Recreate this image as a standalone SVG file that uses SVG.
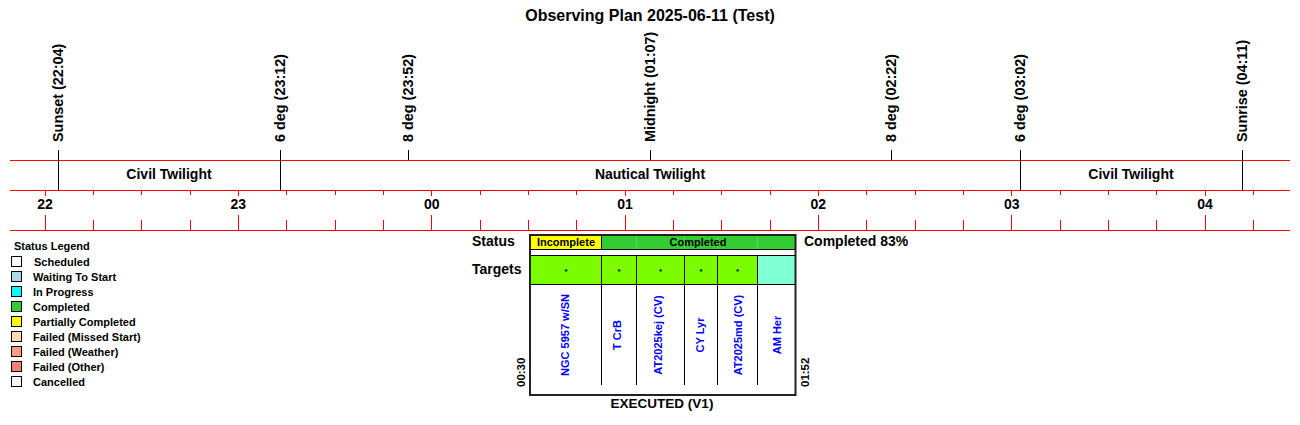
<svg xmlns="http://www.w3.org/2000/svg" width="1300" height="425" viewBox="0 0 1300 425">
<style>
text{font-family:"Liberation Sans",Arial,sans-serif;font-weight:bold;fill:#000}
.red{stroke:#ff0000;stroke-width:1;fill:none}
.blk{stroke:#000;stroke-width:1;fill:none}
.ev{font-size:14.4px}
.tw{font-size:14px;text-anchor:middle}
.hr{font-size:14px;text-anchor:middle}
.lg{font-size:11px}
.sq{stroke:#000;stroke-width:1}
.tg{font-size:11px;fill:#0000ff;text-anchor:middle}
.cell{stroke:#000;stroke-width:1}
</style>
<rect width="1300" height="425" fill="#fff"/>
<text x="650" y="21" font-size="16" text-anchor="middle">Observing Plan 2025-06-11 (Test)</text>

<g id="timeline">
<path class="red" d="M10 160.5H1290M10 190.5H1290M10 230.5H1290"/>
<g id="ticks" class="red">
<path d="M45.5 190V196M238.5 190V196M431.5 190V196M625.5 190V196M818.5 190V196M1011.5 190V196M1205.5 190V196"/>
<path d="M45.5 215V230M238.5 215V230M431.5 215V230M625.5 215V230M818.5 215V230M1011.5 215V230M1205.5 215V230"/>
<path d="M93.5 190V195M141.5 190V195M190.5 190V195M286.5 190V195M335.5 190V195M383.5 190V195M480.5 190V195M528.5 190V195M576.5 190V195M673.5 190V195M721.5 190V195M770.5 190V195M866.5 190V195M915.5 190V195M963.5 190V195M1060.5 190V195M1108.5 190V195M1156.5 190V195M1253.5 190V195"/>
<path d="M93.5 220V230M141.5 220V230M190.5 220V230M286.5 220V230M335.5 220V230M383.5 220V230M480.5 220V230M528.5 220V230M576.5 220V230M673.5 220V230M721.5 220V230M770.5 220V230M866.5 220V230M915.5 220V230M963.5 220V230M1060.5 220V230M1108.5 220V230M1156.5 220V230M1253.5 220V230"/>
</g>
<g id="hours">
<text class="hr" x="45" y="209">22</text>
<text class="hr" x="238.3" y="209">23</text>
<text class="hr" x="431.7" y="209">00</text>
<text class="hr" x="625" y="209">01</text>
<text class="hr" x="818.3" y="209">02</text>
<text class="hr" x="1011.7" y="209">03</text>
<text class="hr" x="1205" y="209">04</text>
</g>
<g id="twilight">
<text class="tw" x="169" y="179">Civil Twilight</text>
<text class="tw" x="650" y="179">Nautical Twilight</text>
<text class="tw" x="1131" y="179">Civil Twilight</text>
</g>
<g id="events">
<path class="blk" d="M58.5 150V190M280.5 150V190M408.5 150V160M650.5 150V160M891.5 150V160M1020.5 150V190M1242.5 150V190"/>
<text class="ev" transform="translate(63,142) rotate(-90)">Sunset (22:04)</text>
<text class="ev" transform="translate(285,142) rotate(-90)">6 deg (23:12)</text>
<text class="ev" transform="translate(413,142) rotate(-90)">8 deg (23:52)</text>
<text class="ev" transform="translate(655,142) rotate(-90)">Midnight (01:07)</text>
<text class="ev" transform="translate(896,142) rotate(-90)">8 deg (02:22)</text>
<text class="ev" transform="translate(1025,142) rotate(-90)">6 deg (03:02)</text>
<text class="ev" transform="translate(1247,142) rotate(-90)">Sunrise (04:11)</text>
</g>
</g>

<g id="legend">
<text class="lg" x="14" y="250">Status Legend</text>
<g id="lg-scheduled"><rect class="sq" x="11.5" y="256.5" width="10" height="10" fill="#ffffff"/><text class="lg" x="34" y="266">Scheduled</text></g>
<g id="lg-waiting"><rect class="sq" x="11.5" y="271.5" width="10" height="10" fill="#add8e6"/><text class="lg" x="33" y="281">Waiting To Start</text></g>
<g id="lg-progress"><rect class="sq" x="11.5" y="286.5" width="10" height="10" fill="#00ffff"/><text class="lg" x="33" y="296">In Progress</text></g>
<g id="lg-completed"><rect class="sq" x="11.5" y="301.5" width="10" height="10" fill="#32cd32"/><text class="lg" x="33" y="311">Completed</text></g>
<g id="lg-partial"><rect class="sq" x="11.5" y="316.5" width="10" height="10" fill="#ffff00"/><text class="lg" x="33" y="326">Partially Completed</text></g>
<g id="lg-missed"><rect class="sq" x="11.5" y="331.5" width="10" height="10" fill="#ffdead"/><text class="lg" x="33" y="341">Failed (Missed Start)</text></g>
<g id="lg-weather"><rect class="sq" x="11.5" y="346.5" width="10" height="10" fill="#ffa07a"/><text class="lg" x="33" y="356">Failed (Weather)</text></g>
<g id="lg-other"><rect class="sq" x="11.5" y="361.5" width="10" height="10" fill="#fa8072"/><text class="lg" x="33" y="371">Failed (Other)</text></g>
<g id="lg-cancelled"><rect class="sq" x="11.5" y="376.5" width="10" height="10" fill="#f5f5f5"/><text class="lg" x="33" y="386">Cancelled</text></g>
</g>

<g id="plan">
<text x="472" y="246" font-size="14">Status</text>
<text x="472" y="274" font-size="14">Targets</text>
<text x="804" y="246" font-size="14">Completed 83%</text>
<rect x="530" y="235" width="265" height="160" fill="#fff"/>
<g id="status-bar">
<rect x="530.5" y="235.5" width="71" height="14" fill="#ffff00" stroke="#000"/>
<rect x="601.5" y="235.5" width="194" height="14" fill="#32cd32" stroke="#000"/>
<path d="M636.5 236V249M684.5 236V249M717.5 236V249M757.5 236V249" stroke="#5cd65c" stroke-width="1"/>
<text x="566" y="246" font-size="11" text-anchor="middle">Incomplete</text>
<text x="698" y="246" font-size="11" text-anchor="middle">Completed</text>
</g>
<g id="targets-row">
<rect class="cell" x="530.5" y="255.5" width="71" height="29" fill="#7cfc00"/>
<rect class="cell" x="601.5" y="255.5" width="35" height="29" fill="#7cfc00"/>
<rect class="cell" x="636.5" y="255.5" width="48" height="29" fill="#7cfc00"/>
<rect class="cell" x="684.5" y="255.5" width="33" height="29" fill="#7cfc00"/>
<rect class="cell" x="717.5" y="255.5" width="40" height="29" fill="#7cfc00"/>
<rect class="cell" x="757.5" y="255.5" width="38" height="29" fill="#7fffd4"/>
<g font-size="8" text-anchor="middle">
<text x="566" y="274">*</text>
<text x="619" y="274">*</text>
<text x="660.5" y="274">*</text>
<text x="701" y="274">*</text>
<text x="737.5" y="274">*</text>
</g>
</g>
<g id="target-names">
<path class="blk" d="M601.5 285V385M636.5 285V385M684.5 285V385M717.5 285V385M757.5 285V385"/>
<text class="tg" transform="translate(569,335) rotate(-90)">NGC 5957 w/SN</text>
<text class="tg" transform="translate(621,335) rotate(-90)">T CrB</text>
<text class="tg" transform="translate(661.5,335) rotate(-90)">AT2025kej (CV)</text>
<text class="tg" transform="translate(704,335) rotate(-90)">CY Lyr</text>
<text class="tg" transform="translate(742,335) rotate(-90)">AT2025md (CV)</text>
<text class="tg" transform="translate(781,335) rotate(-90)">AM Her</text>
</g>
<rect x="530" y="235" width="265.5" height="160" fill="none" stroke="#222" stroke-width="2"/>
<text font-size="11.5" transform="translate(525,387) rotate(-90)">00:30</text>
<text font-size="11.5" transform="translate(808.5,387) rotate(-90)">01:52</text>
<text x="662" y="408" font-size="13.5" text-anchor="middle">EXECUTED (V1)</text>
</g>
</svg>
